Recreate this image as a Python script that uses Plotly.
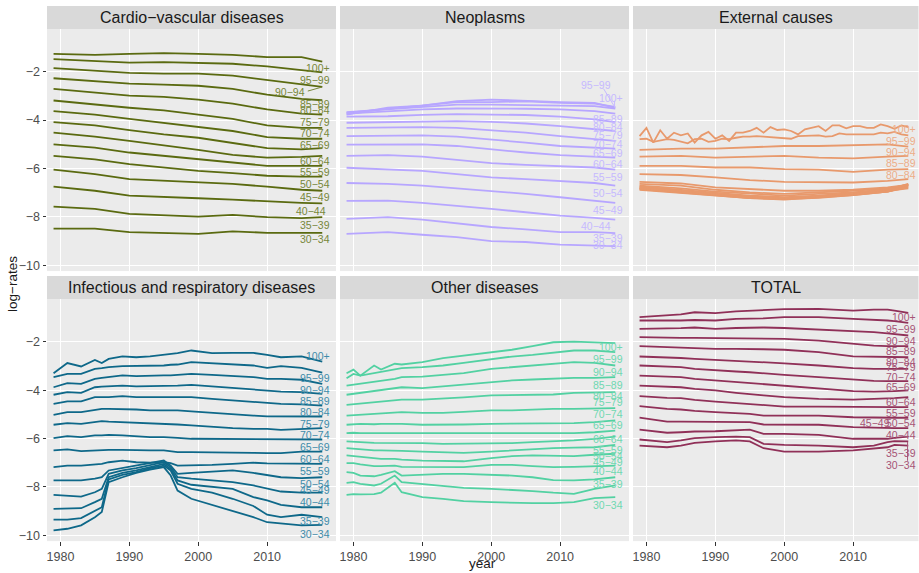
import plotly.graph_objects as go

# ---------------- DATA ----------------
AGE_GROUPS = ["100+", "95−99", "90−94", "85−89", "80−84", "75−79", "70−74", "65−69",
              "60−64", "55−59", "50−54", "45−49", "40−44", "35−39", "30−34"]

CAUSES = ["Cardio−vascular diseases", "Neoplasms", "External causes",
          "Infectious and respiratory diseases", "Other diseases", "TOTAL"]

CARDIO_YEARS = [1979, 1985, 1990, 1995, 2000, 2005, 2010, 2015, 2018]
CARDIO_RATES = [
    [-1.26, -1.30, -1.26, -1.23, -1.26, -1.30, -1.40, -1.40, -1.58],
    [-1.48, -1.55, -1.62, -1.60, -1.62, -1.67, -1.78, -1.92, -2.03],
    [-1.85, -1.95, -2.05, -2.08, -2.08, -2.16, -2.33, -2.53, -2.63],
    [-2.27, -2.40, -2.49, -2.53, -2.58, -2.71, -2.95, -3.12, -3.18],
    [-2.71, -2.85, -2.99, -3.04, -3.15, -3.32, -3.56, -3.73, -3.77],
    [-3.19, -3.36, -3.49, -3.60, -3.77, -3.95, -4.22, -4.32, -4.32],
    [-3.63, -3.77, -3.95, -4.11, -4.27, -4.45, -4.70, -4.77, -4.77],
    [-4.08, -4.22, -4.41, -4.59, -4.73, -4.93, -5.16, -5.21, -5.16],
    [-4.52, -4.68, -4.86, -5.04, -5.23, -5.44, -5.55, -5.52, -5.48],
    [-5.00, -5.14, -5.34, -5.48, -5.62, -5.75, -5.89, -5.89, -5.89],
    [-5.48, -5.62, -5.82, -5.96, -6.10, -6.19, -6.30, -6.34, -6.34],
    [-6.05, -6.23, -6.44, -6.51, -6.55, -6.64, -6.75, -6.88, -6.92],
    [-6.75, -6.92, -7.12, -7.16, -7.23, -7.29, -7.36, -7.42, -7.44],
    [-7.58, -7.67, -7.88, -7.92, -7.99, -7.92, -8.01, -8.05, -8.01],
    [-8.49, -8.49, -8.63, -8.66, -8.70, -8.60, -8.66, -8.66, -8.66],
]

NEO_YEARS = [1979, 1985, 1990, 1995, 2000, 2005, 2010, 2015, 2018]
NEO_RATES = [
    [-3.77, -3.49, -3.40, -3.22, -3.15, -3.22, -3.26, -3.29, -3.49],
    [-3.70, -3.53, -3.40, -3.26, -3.26, -3.22, -3.29, -3.32, -3.45],
    [-3.67, -3.56, -3.45, -3.36, -3.36, -3.37, -3.40, -3.42, -3.53],
    [-3.73, -3.63, -3.56, -3.52, -3.52, -3.53, -3.56, -3.63, -3.73],
    [-3.86, -3.84, -3.78, -3.75, -3.77, -3.79, -3.86, -3.97, -4.08],
    [-4.11, -4.08, -4.04, -4.04, -4.07, -4.14, -4.25, -4.36, -4.45],
    [-4.32, -4.30, -4.29, -4.32, -4.41, -4.52, -4.66, -4.77, -4.86],
    [-4.66, -4.63, -4.63, -4.68, -4.79, -4.93, -5.07, -5.14, -5.18],
    [-5.01, -5.00, -5.00, -5.07, -5.21, -5.34, -5.45, -5.51, -5.55],
    [-5.48, -5.45, -5.51, -5.64, -5.78, -5.85, -5.89, -5.96, -6.05],
    [-5.97, -6.03, -6.10, -6.23, -6.37, -6.44, -6.51, -6.60, -6.71],
    [-6.60, -6.64, -6.71, -6.82, -6.92, -7.05, -7.19, -7.33, -7.42],
    [-7.34, -7.33, -7.42, -7.53, -7.67, -7.81, -7.95, -8.04, -8.11],
    [-8.08, -8.01, -8.11, -8.25, -8.42, -8.52, -8.63, -8.63, -8.67],
    [-8.70, -8.63, -8.74, -8.84, -9.00, -9.04, -9.15, -9.18, -9.21],
]

# External causes: the two oldest groups are read year by year
EXT_YEARS_FINE = list(range(1979, 2019))
EXT_RATES_FINE = [
    [-4.66, -4.32, -4.93, -4.42, -4.77, -4.52, -4.63, -4.55, -4.93, -4.63,
     -4.49, -4.77, -4.63, -4.86, -4.52, -4.52, -4.45, -4.32, -4.52, -4.29,
     -4.41, -4.38, -4.45, -4.59, -4.38, -4.32, -4.25, -4.45, -4.22, -4.22,
     -4.34, -4.25, -4.25, -4.32, -4.32, -4.18, -4.25, -4.36, -4.22, -4.29],
    [-4.79, -4.77, -4.90, -4.86, -4.79, -4.82, -4.90, -4.96, -4.79, -4.77,
     -4.90, -4.86, -4.77, -4.79, -4.73, -4.68, -4.68, -4.66, -4.68, -4.70,
     -4.70, -4.73, -4.77, -4.66, -4.66, -4.66, -4.63, -4.68, -4.66, -4.55,
     -4.59, -4.59, -4.59, -4.59, -4.59, -4.52, -4.55, -4.49, -4.59, -4.63],
]
EXT_YEARS = [1979, 1985, 1990, 1995, 2000, 2005, 2010, 2015, 2018]
EXT_RATES = [
    [-5.23, -5.18, -5.18, -5.14, -5.07, -5.07, -5.03, -5.00, -5.10],
    [-5.51, -5.48, -5.55, -5.51, -5.48, -5.55, -5.58, -5.51, -5.48],
    [-5.89, -5.89, -5.96, -5.96, -6.03, -6.05, -6.14, -6.05, -6.03],
    [-6.23, -6.27, -6.37, -6.48, -6.55, -6.55, -6.58, -6.51, -6.44],
    [-6.55, -6.62, -6.78, -6.85, -6.92, -6.92, -6.88, -6.78, -6.68],
    [-6.64, -6.71, -6.88, -6.99, -7.05, -6.99, -6.92, -6.82, -6.68],
    [-6.71, -6.82, -6.96, -7.05, -7.12, -7.05, -6.99, -6.85, -6.66],
    [-6.74, -6.88, -7.01, -7.12, -7.19, -7.12, -7.01, -6.88, -6.64],
    [-6.78, -6.92, -7.05, -7.16, -7.23, -7.15, -7.05, -6.92, -6.68],
    [-6.81, -6.95, -7.08, -7.19, -7.26, -7.18, -7.08, -6.96, -6.71],
    [-6.82, -6.96, -7.10, -7.21, -7.27, -7.21, -7.10, -6.96, -6.74],
    [-6.85, -6.99, -7.12, -7.22, -7.29, -7.21, -7.10, -6.96, -6.78],
    [-6.88, -7.01, -7.12, -7.22, -7.26, -7.16, -7.07, -6.93, -6.82],
]

INF_YEARS = [1979, 1981, 1983, 1985, 1986, 1987, 1989, 1991, 1993, 1995,
             1996, 1997, 1999, 2002, 2005, 2008, 2010, 2012, 2015, 2018]
INF_RATES = [
    [-3.30, -2.88, -3.02, -2.75, -2.88, -2.71, -2.60, -2.64, -2.60, -2.54, -2.50, -2.47, -2.36, -2.47, -2.46, -2.46, -2.54, -2.64, -2.60, -2.82],
    [-3.46, -3.33, -3.33, -3.12, -3.09, -3.05, -3.01, -3.01, -2.98, -2.98, -2.95, -2.94, -2.84, -2.88, -2.91, -2.98, -3.08, -3.01, -3.08, -3.28],
    [-3.88, -3.71, -3.74, -3.53, -3.49, -3.46, -3.39, -3.42, -3.39, -3.39, -3.39, -3.37, -3.33, -3.37, -3.42, -3.46, -3.53, -3.53, -3.57, -3.74],
    [-4.19, -4.08, -4.11, -3.88, -3.85, -3.84, -3.81, -3.84, -3.84, -3.84, -3.81, -3.81, -3.78, -3.84, -3.92, -3.97, -4.02, -4.06, -4.08, -4.15],
    [-4.57, -4.46, -4.46, -4.29, -4.29, -4.29, -4.25, -4.29, -4.29, -4.29, -4.28, -4.29, -4.29, -4.36, -4.43, -4.50, -4.52, -4.57, -4.59, -4.64],
    [-5.02, -4.91, -4.91, -4.80, -4.77, -4.77, -4.77, -4.80, -4.84, -4.84, -4.84, -4.84, -4.88, -4.94, -5.02, -5.05, -5.08, -5.09, -5.09, -5.09],
    [-5.43, -5.36, -5.39, -5.30, -5.28, -5.30, -5.32, -5.36, -5.39, -5.39, -5.39, -5.42, -5.46, -5.53, -5.57, -5.60, -5.60, -5.64, -5.60, -5.57],
    [-5.98, -5.90, -5.94, -5.87, -5.87, -5.85, -5.87, -5.92, -5.94, -5.94, -5.94, -5.97, -6.01, -6.01, -6.01, -6.04, -6.04, -6.04, -6.04, -6.04],
    [-6.49, -6.45, -6.52, -6.49, -6.49, -6.47, -6.47, -6.49, -6.49, -6.49, -6.52, -6.56, -6.56, -6.56, -6.56, -6.59, -6.60, -6.60, -6.54, -6.54],
    [-7.18, -7.12, -7.12, -7.09, -7.05, -6.98, -6.91, -6.98, -7.00, -6.98, -7.02, -7.12, -7.12, -7.09, -7.05, -7.00, -7.03, -7.03, -7.03, -7.05],
    [-7.73, -7.73, -7.73, -7.66, -7.60, -7.32, -7.22, -7.12, -7.00, -6.91, -7.12, -7.46, -7.42, -7.36, -7.32, -7.42, -7.50, -7.60, -7.64, -7.60],
    [-8.33, -8.35, -8.40, -8.22, -8.08, -7.46, -7.32, -7.22, -7.09, -6.98, -7.18, -7.60, -7.66, -7.73, -7.80, -7.94, -8.08, -8.19, -8.24, -8.24],
    [-8.91, -8.88, -8.88, -8.63, -8.49, -7.60, -7.42, -7.32, -7.18, -7.05, -7.25, -7.73, -7.91, -8.01, -8.08, -8.42, -8.56, -8.74, -8.84, -8.84],
    [-9.35, -9.35, -9.29, -8.97, -8.84, -7.69, -7.50, -7.39, -7.22, -7.12, -7.32, -7.87, -8.08, -8.24, -8.49, -8.79, -9.15, -9.25, -9.15, -9.25],
    [-9.80, -9.73, -9.59, -9.25, -9.04, -7.80, -7.60, -7.42, -7.28, -7.18, -7.53, -8.15, -8.49, -8.74, -8.97, -9.25, -9.46, -9.52, -9.59, -9.57],
]

OTH_YEARS = [1979, 1980, 1981, 1983, 1984, 1986, 1987, 1990, 1993, 1996,
             2000, 2003, 2006, 2009, 2012, 2015, 2018]
OTH_RATES = [
    [-3.30, -3.15, -3.40, -2.98, -3.15, -2.91, -2.94, -2.84, -2.68, -2.57, -2.43, -2.33, -2.18, -2.02, -1.99, -2.02, -2.06],
    [-3.51, -3.33, -3.40, -3.30, -3.26, -3.16, -3.09, -3.05, -2.98, -2.87, -2.71, -2.61, -2.54, -2.46, -2.36, -2.36, -2.43],
    [-3.81, -3.77, -3.74, -3.67, -3.63, -3.53, -3.46, -3.44, -3.37, -3.30, -3.12, -3.05, -2.95, -2.90, -2.84, -2.87, -2.98],
    [-4.19, -4.15, -4.13, -4.06, -4.00, -3.92, -3.88, -3.92, -3.84, -3.78, -3.67, -3.60, -3.56, -3.51, -3.49, -3.49, -3.46],
    [-4.61, -4.58, -4.57, -4.50, -4.46, -4.40, -4.39, -4.39, -4.36, -4.30, -4.22, -4.21, -4.18, -4.18, -4.11, -4.08, -4.08],
    [-5.05, -5.03, -5.02, -4.98, -4.95, -4.92, -4.91, -4.94, -4.94, -4.90, -4.84, -4.84, -4.80, -4.77, -4.77, -4.74, -4.74],
    [-5.43, -5.41, -5.39, -5.41, -5.39, -5.39, -5.39, -5.43, -5.43, -5.42, -5.39, -5.39, -5.39, -5.39, -5.36, -5.32, -5.25],
    [-5.78, -5.76, -5.78, -5.78, -5.78, -5.78, -5.78, -5.81, -5.81, -5.81, -5.81, -5.81, -5.81, -5.81, -5.78, -5.74, -5.67],
    [-6.12, -6.12, -6.15, -6.18, -6.18, -6.18, -6.18, -6.19, -6.22, -6.22, -6.22, -6.19, -6.15, -6.12, -6.08, -6.01, -5.92],
    [-6.40, -6.43, -6.45, -6.49, -6.49, -6.49, -6.51, -6.54, -6.56, -6.59, -6.54, -6.49, -6.45, -6.40, -6.38, -6.36, -6.26],
    [-6.70, -6.73, -6.77, -6.84, -6.84, -6.84, -6.87, -6.91, -6.94, -6.94, -6.81, -6.73, -6.70, -6.73, -6.73, -6.67, -6.63],
    [-7.02, -7.02, -7.07, -7.14, -7.14, -7.12, -7.17, -7.18, -7.18, -7.18, -7.09, -7.09, -7.14, -7.18, -7.17, -7.14, -7.12],
    [-7.39, -7.42, -7.53, -7.56, -7.50, -7.35, -7.53, -7.49, -7.46, -7.46, -7.50, -7.53, -7.60, -7.72, -7.73, -7.69, -7.60],
    [-7.83, -7.80, -7.87, -7.94, -7.87, -7.53, -7.80, -7.87, -7.94, -8.04, -8.08, -8.12, -8.17, -8.24, -8.29, -8.08, -7.94],
    [-8.33, -8.30, -8.31, -8.30, -8.24, -7.83, -8.22, -8.42, -8.49, -8.59, -8.63, -8.66, -8.67, -8.67, -8.63, -8.46, -8.42],
]

TOT_YEARS = [1979, 1981, 1983, 1985, 1987, 1990, 1993, 1995, 1997, 2000,
             2005, 2010, 2013, 2015, 2016, 2018]
TOT_RATES = [
    [-0.98, -0.94, -0.92, -0.87, -0.78, -0.82, -0.74, -0.71, -0.68, -0.65, -0.64, -0.71, -0.67, -0.67, -0.71, -0.81],
    [-1.12, -1.12, -1.15, -1.12, -1.10, -1.12, -1.05, -1.05, -1.03, -0.98, -0.98, -1.05, -1.08, -1.12, -1.15, -1.22],
    [-1.47, -1.47, -1.47, -1.44, -1.41, -1.47, -1.43, -1.41, -1.41, -1.43, -1.49, -1.58, -1.60, -1.65, -1.67, -1.74],
    [-1.81, -1.83, -1.84, -1.84, -1.84, -1.85, -1.85, -1.85, -1.87, -1.88, -1.95, -2.09, -2.16, -2.18, -2.18, -2.18],
    [-2.18, -2.20, -2.21, -2.22, -2.25, -2.29, -2.29, -2.29, -2.31, -2.33, -2.43, -2.60, -2.62, -2.64, -2.64, -2.64],
    [-2.61, -2.62, -2.65, -2.67, -2.71, -2.75, -2.79, -2.82, -2.84, -2.89, -2.98, -3.09, -3.12, -3.12, -3.12, -3.12],
    [-2.98, -3.01, -3.02, -3.05, -3.12, -3.19, -3.23, -3.26, -3.31, -3.37, -3.46, -3.57, -3.62, -3.63, -3.63, -3.63],
    [-3.40, -3.42, -3.45, -3.46, -3.53, -3.60, -3.67, -3.70, -3.75, -3.81, -3.95, -4.04, -4.06, -4.06, -4.04, -4.01],
    [-3.81, -3.84, -3.85, -3.88, -3.95, -4.01, -4.11, -4.15, -4.22, -4.29, -4.36, -4.39, -4.37, -4.36, -4.33, -4.29],
    [-4.25, -4.29, -4.32, -4.33, -4.40, -4.47, -4.54, -4.57, -4.64, -4.68, -4.68, -4.70, -4.70, -4.70, -4.70, -4.70],
    [-4.66, -4.73, -4.77, -4.80, -4.86, -4.91, -4.95, -4.98, -5.05, -5.05, -5.05, -5.12, -5.14, -5.14, -5.14, -5.14],
    [-5.14, -5.21, -5.30, -5.30, -5.30, -5.32, -5.32, -5.32, -5.42, -5.42, -5.43, -5.53, -5.56, -5.57, -5.57, -5.57],
    [-5.63, -5.70, -5.76, -5.74, -5.71, -5.70, -5.64, -5.63, -5.81, -5.81, -5.85, -6.01, -6.01, -6.01, -5.97, -5.92],
    [-6.04, -6.09, -6.15, -6.08, -5.98, -5.94, -5.92, -5.94, -6.22, -6.26, -6.29, -6.36, -6.29, -6.15, -6.11, -6.12],
    [-6.29, -6.32, -6.36, -6.29, -6.18, -6.12, -6.08, -6.12, -6.40, -6.54, -6.54, -6.49, -6.43, -6.36, -6.26, -6.29],
]

X_TICKS = [1980, 1990, 2000, 2010]
Y_TICKS = [-2, -4, -6, -8, -10]

# ---------------- STYLE / LAYOUT ----------------
LINE_COLORS = ["#5A6A10", "#B7A6FF", "#E8996C", "#0E6889", "#52D1A2", "#903058"]
LABEL_COLORS = ["#77873A", "#C6B9FF", "#EDAD88", "#3E8CAA", "#6FD8B1", "#A65476"]
FONT = "Liberation Sans, Arial, Helvetica, sans-serif"
W, H = 919, 573

# label placement (y in data units, None = label not drawn)
LABEL_Y = [
    [-1.85, -2.33, -2.85, -3.32, -3.60, -4.07, -4.55, -5.03, -5.71, -6.15, -6.63, -7.18, -7.75, -8.33, -8.93],
    [-3.08, -2.53, None, -3.95, -4.29, -4.63, -5.00, -5.37, -5.81, -6.34, -7.01, -7.70, -8.38, -8.86, -9.15],
    [-4.38, -4.86, -5.32, -5.78, -6.27, None, None, None, None, None, None, None, None, None, None],
    [-2.57, -3.49, -3.99, -4.44, -4.91, -5.39, -5.85, -6.36, -6.84, -7.36, -7.87, -8.11, -8.63, -9.41, -9.94],
    [-2.22, -2.71, -3.23, -3.78, -4.26, -4.47, -4.98, -5.46, -6.01, -6.47, -6.74, -6.95, -7.36, -7.87, -8.74],
    [-0.98, -1.47, -1.95, -2.40, -2.82, -3.06, -3.44, -3.86, -4.50, -4.94, -5.35, -5.35, -5.85, -6.59, -7.09],
]
LABEL_X_DEFAULT = 2019.45
LABEL_X_OVERRIDE = {(0, 2): 2015.8, (0, 12): 2018.9, (1, 1): 2017.7,
                    (1, 12): 2017.6, (5, 11): 2015.6}
LEADERS = [(0, 2015.9, -2.80, 2018.0, -2.63),
           (1, 2016.3, -2.70, 2017.9, -3.45),
           (1, 2017.9, -3.20, 2017.9, -3.48),
           (5, 2017.9, -6.14, 2017.9, -6.92)]

px = lambda v: v / W
py = lambda v: 1 - v / H
COL_X = [(47, 336), (340, 629), (633, 918.5)]
ROW_Y = [(29, 272), (300, 543)]
STRIP_Y = [(6, 29), (277, 300)]
PX_PER_YEAR = 6.89
X0 = 1978.05
Y_RANGE = [-10.24, -0.23]

fig = go.Figure()
layout = dict(width=W, height=H, autosize=False, margin=dict(l=0, r=0, t=0, b=0),
              paper_bgcolor="white", plot_bgcolor="#EBEBEB", showlegend=False,
              font=dict(family=FONT, color="#4D4D4D"))
shapes, annotations = [], []

all_data = [
    [(CARDIO_YEARS, r) for r in CARDIO_RATES],
    [(NEO_YEARS, r) for r in NEO_RATES],
    [(EXT_YEARS_FINE, r) for r in EXT_RATES_FINE] + [(EXT_YEARS, r) for r in EXT_RATES],
    [(INF_YEARS, r) for r in INF_RATES],
    [(OTH_YEARS, r) for r in OTH_RATES],
    [(TOT_YEARS, r) for r in TOT_RATES],
]

for p in range(6):
    row, col = divmod(p, 3)
    n = "" if p == 0 else str(p + 1)
    xa, ya = "x" + n, "y" + n
    x0p, x1p = COL_X[col]
    y0p, y1p = ROW_Y[row]
    xr = [X0, X0 + (x1p - x0p) / PX_PER_YEAR]
    bottom = row == 1
    left = col == 0
    layout["xaxis" + n] = dict(
        domain=[px(x0p), px(x1p)], range=xr, anchor=ya,
        tickvals=X_TICKS, ticktext=[str(t) for t in X_TICKS],
        showticklabels=bottom, ticks="outside" if bottom else "", ticklen=3.5,
        tickcolor="#333333", tickwidth=1.1,
        tickfont=dict(size=12.5, color="#4D4D4D", family=FONT),
        showgrid=True, gridcolor="white", gridwidth=1.2, zeroline=False, showline=False)
    layout["yaxis" + n] = dict(
        domain=[py(y1p), py(y0p)], range=Y_RANGE, anchor=xa,
        tickvals=Y_TICKS, ticktext=["−" + str(abs(t)) for t in Y_TICKS],
        showticklabels=left, ticks="outside" if left else "", ticklen=3.5,
        tickcolor="#333333", tickwidth=1.1,
        tickfont=dict(size=12.5, color="#4D4D4D", family=FONT),
        showgrid=True, gridcolor="white", gridwidth=1.2, zeroline=False, showline=False)

    for (yrs, vals) in reversed(all_data[p]):
        fig.add_trace(go.Scatter(x=yrs, y=vals, mode="lines", xaxis=xa, yaxis=ya,
                                 line=dict(color=LINE_COLORS[p], width=1.8),
                                 hoverinfo="skip", showlegend=False))

    for i, age in enumerate(AGE_GROUPS):
        ly = LABEL_Y[p][i]
        if ly is None:
            continue
        lx = LABEL_X_OVERRIDE.get((p, i), LABEL_X_DEFAULT)
        annotations.append(dict(x=lx, y=ly, xref=xa, yref=ya, text=age, showarrow=False,
                                xanchor="right", yanchor="middle",
                                font=dict(size=10.5, color=LABEL_COLORS[p], family=FONT)))

    # strip
    s0, s1 = STRIP_Y[row]
    shapes.append(dict(type="rect", xref="paper", yref="paper", x0=px(x0p), x1=px(x1p),
                       y0=py(s1), y1=py(s0), fillcolor="#D9D9D9", line=dict(width=0),
                       layer="below"))
    annotations.append(dict(x=px((x0p + x1p) / 2), y=py((s0 + s1) / 2), xref="paper",
                            yref="paper", text=CAUSES[p], showarrow=False,
                            xanchor="center", yanchor="middle",
                            font=dict(size=16, color="#1A1A1A", family=FONT)))

for (p, xa0, ya0, xa1, ya1) in LEADERS:
    n = "" if p == 0 else str(p + 1)
    shapes.append(dict(type="line", xref="x" + n, yref="y" + n, x0=xa0, y0=ya0,
                       x1=xa1, y1=ya1, line=dict(color=LABEL_COLORS[p], width=1)))

annotations.append(dict(x=px(483), y=py(565), xref="paper", yref="paper", text="year",
                        showarrow=False, xanchor="center", yanchor="middle",
                        font=dict(size=13.5, color="#1A1A1A", family=FONT)))
annotations.append(dict(x=px(12), y=py(285), xref="paper", yref="paper", text="log−rates",
                        showarrow=False, xanchor="center", yanchor="middle", textangle=-90,
                        font=dict(size=13.5, color="#1A1A1A", family=FONT)))

layout["shapes"] = shapes
layout["annotations"] = annotations
fig.update_layout(**layout)
fig.write_html("out.html")
